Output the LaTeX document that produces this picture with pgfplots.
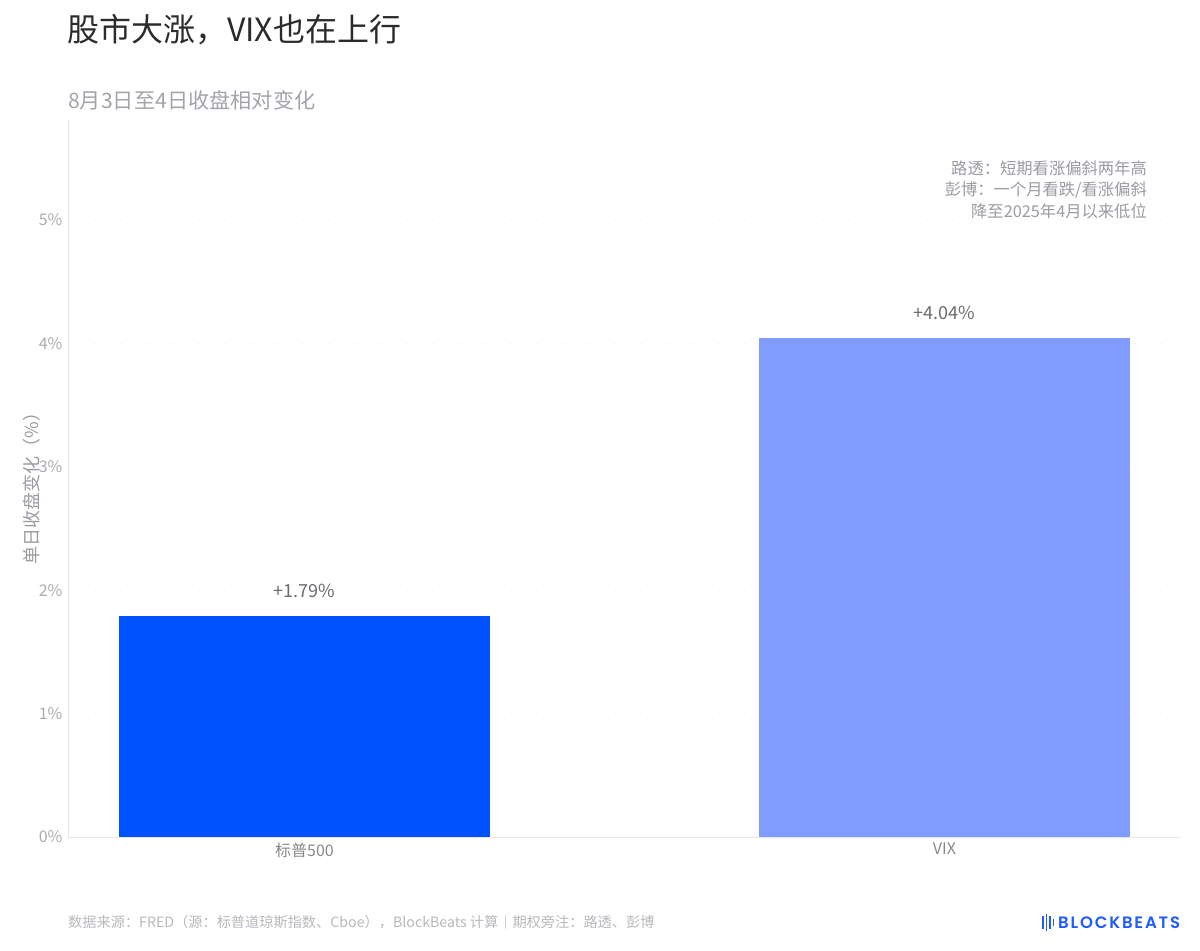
\documentclass[border=0pt]{standalone}
\usepackage{pgfplots}
\pgfplotsset{compat=1.18}
\usepackage{fontspec}
\setmainfont{Noto Sans CJK SC}
\newfontfamily\logofont{Poppins}[UprightFont=* SemiBold, LetterSpace=11]
\definecolor{barA}{HTML}{0052FF}
\definecolor{barB}{HTML}{809CFF}
\definecolor{titlec}{HTML}{2B2B2B}
\definecolor{subc}{HTML}{A3A3AB}
\definecolor{tickc}{HTML}{ABABB0}
\definecolor{annc}{HTML}{9A9AA2}
\definecolor{valc}{HTML}{6B6B70}
\definecolor{footc}{HTML}{B8B8BD}
\definecolor{axc}{HTML}{E6E6EA}
\definecolor{gridc}{HTML}{F3F3F5}
\definecolor{logoc}{HTML}{1F5BFF}
\pgfplotstableread{
x y
0 1.79
}\spx
\pgfplotstableread{
x y
1 4.04
}\vix
\begin{document}
\begin{tikzpicture}
\path[use as bounding box] (0,0) rectangle (1200bp,-951bp);
\begin{axis}[
  at={(68bp,-837bp)}, anchor=south west,
  scale only axis, width=1112bp, height=717bp,
  xmin=-0.3695, xmax=1.368, ymin=0, ymax=5.81,
  axis x line*=bottom, axis y line*=left,
  axis line style={draw=axc, line width=1pt, -},
  major tick length=0pt,
  xtick={0,1}, xticklabels={标普500,VIX},
  ytick={0,1,2,3,4,5}, yticklabels={0\%,1\%,2\%,3\%,4\%,5\%},
  xticklabel style={font=\fontsize{16bp}{18bp}\selectfont, text=tickc!80!black, yshift=-2bp},
  yticklabel style={font=\fontsize{16bp}{18bp}\selectfont, text=tickc, xshift=-2bp},
  ymajorgrids, grid style={draw=gridc, line width=1pt, dash pattern=on 2bp off 24bp},
  clip=false,
  nodes near coords={+\pgfmathprintnumber[fixed,fixed zerofill,precision=2,assume math mode=true]{\pgfplotspointmeta}\%},
  every node near coord/.append style={font=\fontsize{18bp}{20bp}\selectfont, text=valc, anchor=south, yshift=15bp},
]
\addplot[ybar, bar width=371bp, fill=barA, draw=none] table[x=x,y=y] {\spx};
\addplot[ybar, bar width=371bp, fill=barB, draw=none] table[x=x,y=y] {\vix};
\end{axis}
% titles
\node[anchor=base west, inner sep=0, text=titlec, font=\fontsize{32bp}{38bp}\selectfont] at (67bp,-41bp) {股市大涨，VIX也在上行};
\node[anchor=base west, inner sep=0, text=subc, font=\fontsize{21.2bp}{24bp}\selectfont] at (68bp,-108bp) {8月3日至4日收盘相对变化};
% y label
\node[rotate=90, inner sep=0, text=annc, font=\fontsize{18bp}{20bp}\selectfont] at (32bp,-484bp) {单日收盘变化（\%）};
% annotation
\begin{scope}[every node/.style={anchor=base east, inner sep=0, text=annc, font=\fontsize{16.3bp}{20bp}\selectfont}]
\node at (1147bp,-174bp) {路透：短期看涨偏斜两年高};
\node at (1147bp,-195.5bp) {彭博：一个月看跌/看涨偏斜};
\node at (1147bp,-217bp) {降至2025年4月以来低位};
\end{scope}
% footer
\node[anchor=base west, inner sep=0, text=footc, font=\fontsize{14.2bp}{18bp}\selectfont] at (68bp,-927bp) {数据来源：FRED（源：标普道琼斯指数、Cboe），BlockBeats 计算｜期权旁注：路透、彭博};
% logo
\begin{scope}[logoc, line width=1.6bp]
\draw (1043bp,-916bp) -- (1043bp,-929bp);
\draw (1046.5bp,-914bp) -- (1046.5bp,-931bp);
\draw (1050bp,-916bp) -- (1050bp,-929bp);
\draw (1053.5bp,-919bp) -- (1053.5bp,-926bp);
\end{scope}
\node[anchor=base west, inner sep=0, text=logoc, font=\logofont\fontsize{16.5bp}{18bp}\selectfont] at (1058bp,-928bp) {BLOCKBEATS};
\end{tikzpicture}
\end{document}
